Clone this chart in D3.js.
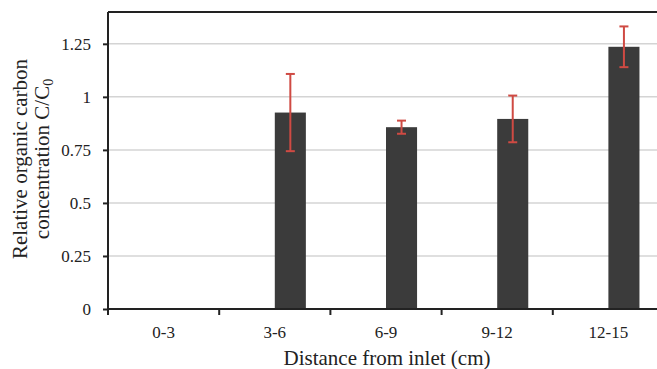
<!DOCTYPE html>
<html>
<head>
<meta charset="utf-8">
<script src="https://cdn.jsdelivr.net/npm/d3@7/dist/d3.min.js"></script>
<style>
  body { margin: 0; background: #fff; }
  svg text { font-family: "Liberation Serif", "Times New Roman", serif !important; fill: #222; }
</style>
</head>
<body>
<svg id="chart" width="657" height="369"></svg>
<script>
// data
CATEGORIES = ["0-3", "3-6", "6-9", "9-12", "12-15"]
MEANS = [null, 0.926, 0.857, 0.896, 1.236]
ERRORS = [null, 0.182, 0.031, 0.110, 0.096]
Y_TICKS = [0, 0.25, 0.5, 0.75, 1, 1.25]
SERIES = ["blank", "measured"]

var svg = d3.select("#chart")
var mLeft = 108, mTop = 12, mBottom = 309, mRight = 664

var x = d3.scaleBand()
  .domain(CATEGORIES)
  .range([mLeft, mRight])
  .padding(0)

var xSub = d3.scaleBand()
  .domain(SERIES)
  .range([0, x.bandwidth()])
  .paddingInner(0)
  .paddingOuter(0.79)

var y = d3.scaleLinear()
  .domain([0, 1.4])
  .range([mBottom, mTop])

// GRID

svg.append("g")
  .selectAll("line")
  .data(Y_TICKS.filter(function(d){ return d > 0 }))
  .enter()
  .append("line")
    .attr("x1", mLeft)
    .attr("x2", 657)
    .attr("y1", function(d){ return y(d) })
    .attr("y2", function(d){ return y(d) })
    .style("stroke", "#d4d4d4")
    .style("stroke-width", 1.5)

// top border
svg.append("line")
  .attr("x1", mLeft)
  .attr("x2", 657)
  .attr("y1", y(1.4))
  .attr("y2", y(1.4))
  .style("stroke", "#222")
  .style("stroke-width", 2)

// BARS

var rows = CATEGORIES.map(function(c, i){
  return {cat: c, mean: MEANS[i], err: ERRORS[i]}
}).filter(function(d){ return d.mean !== null })

svg.append("g")
  .selectAll("rect")
  .data(rows)
  .enter()
  .append("rect")
    .attr("x", function(d){ return x(d.cat) + xSub("measured") })
    .attr("y", function(d){ return y(d.mean) })
    .attr("width", xSub.bandwidth())
    .attr("height", function(d){ return y(0) - y(d.mean) })
    .attr("fill", "#3b3b3b")

// ERROR BARS

var errs = svg.append("g")
  .selectAll("g")
  .data(rows)
  .enter()
  .append("g")
    .attr("transform", function(d){
      return "translate(" + (x(d.cat) + xSub("measured") + xSub.bandwidth() / 2) + ",0)"
    })
    .style("stroke", "#cf4a43")
    .style("stroke-width", 2)

errs.append("line")
  .attr("y1", function(d){ return y(d.mean - d.err) })
  .attr("y2", function(d){ return y(d.mean + d.err) })
errs.append("line")
  .attr("x1", -4.5).attr("x2", 4.5)
  .attr("y1", function(d){ return y(d.mean + d.err) })
  .attr("y2", function(d){ return y(d.mean + d.err) })
errs.append("line")
  .attr("x1", -4.5).attr("x2", 4.5)
  .attr("y1", function(d){ return y(d.mean - d.err) })
  .attr("y2", function(d){ return y(d.mean - d.err) })

// AXES

var yAxis = svg.append("g")
  .attr("transform", "translate(" + mLeft + ",0)")
  .call(d3.axisLeft(y).tickValues(Y_TICKS).tickSize(5).tickSizeOuter(0)
    .tickFormat(function(d){ return d3.format("")(d) }))
yAxis.attr("font-family", null)
yAxis.select(".domain").attr("d", "M0," + mTop + "V" + mBottom)
yAxis.selectAll("path, line").style("stroke", "#222").style("stroke-width", 2)
yAxis.selectAll("text")
  .attr("x", -17)
  .style("font-size", "17px")
  .style("fill", "#222")

var boundaries = CATEGORIES.map(function(c){ return x(c) })
var xAxis = svg.append("g")
  .attr("transform", "translate(0," + mBottom + ")")
xAxis.append("line")
  .attr("x1", mLeft).attr("x2", 657)
  .style("stroke", "#222").style("stroke-width", 2)
xAxis.selectAll(".tk")
  .data(boundaries)
  .enter()
  .append("line")
    .attr("class", "tk")
    .attr("x1", function(d){ return d })
    .attr("x2", function(d){ return d })
    .attr("y1", 0).attr("y2", 6)
    .style("stroke", "#222").style("stroke-width", 2)
xAxis.selectAll("text")
  .data(CATEGORIES)
  .enter()
  .append("text")
    .attr("x", function(d){ return x(d) + x.bandwidth() / 2 })
    .attr("y", 29)
    .attr("text-anchor", "middle")
    .style("font-size", "17px")
    .text(function(d){ return d })

// TITLES

svg.append("text")
  .attr("x", 387)
  .attr("y", 365)
  .attr("text-anchor", "middle")
  .style("font-size", "21px")
  .text("Distance from inlet (cm)")

var yTitle = svg.append("text")
  .attr("transform", "translate(0,159) rotate(-90)")
  .attr("text-anchor", "middle")
  .style("font-size", "21px")
yTitle.append("tspan")
  .attr("x", 0).attr("y", 27)
  .text("Relative organic carbon")
var l2 = yTitle.append("tspan")
  .attr("x", 0).attr("y", 49)
  .text("concentration C/C")
l2.append("tspan")
  .attr("dy", 4)
  .style("font-size", "14px")
  .text("0")
</script>
</body>
</html>
